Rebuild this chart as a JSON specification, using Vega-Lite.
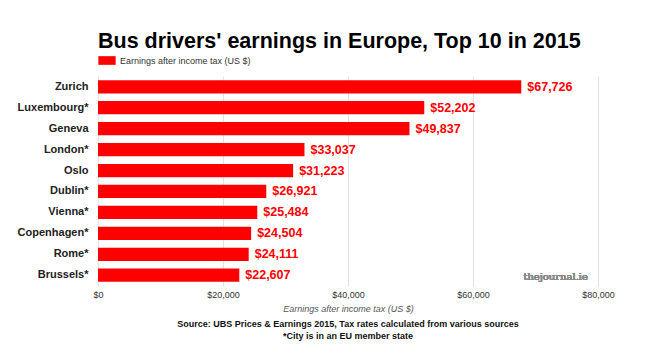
{
  "$schema": "https://vega.github.io/schema/vega-lite/v6.json",
  "width": 500,
  "height": 210,
  "autosize": {"type": "none"},
  "padding": {"left": 98, "top": 76, "right": 52, "bottom": 71},
  "background": "white",
  "config": {
    "font": "Liberation Sans",
    "view": {"stroke": null}
  },
  "title": {
    "text": ["Source: UBS Prices & Earnings 2015, Tax rates calculated from various sources", "*City is in an EU member state"],
    "orient": "bottom",
    "anchor": "middle",
    "fontSize": 9,
    "fontWeight": "bold",
    "color": "#111111",
    "lineHeight": 12,
    "offset": 7
  },
  "data": {
    "values": [
      {"city": "Zurich", "earnings": 67726, "series": "Earnings after income tax (US $)"},
      {"city": "Luxembourg*", "earnings": 52202, "series": "Earnings after income tax (US $)"},
      {"city": "Geneva", "earnings": 49837, "series": "Earnings after income tax (US $)"},
      {"city": "London*", "earnings": 33037, "series": "Earnings after income tax (US $)"},
      {"city": "Oslo", "earnings": 31223, "series": "Earnings after income tax (US $)"},
      {"city": "Dublin*", "earnings": 26921, "series": "Earnings after income tax (US $)"},
      {"city": "Vienna*", "earnings": 25484, "series": "Earnings after income tax (US $)"},
      {"city": "Copenhagen*", "earnings": 24504, "series": "Earnings after income tax (US $)"},
      {"city": "Rome*", "earnings": 24111, "series": "Earnings after income tax (US $)"},
      {"city": "Brussels*", "earnings": 22607, "series": "Earnings after income tax (US $)"}
    ]
  },
  "encoding": {
    "y": {
      "field": "city",
      "type": "nominal",
      "sort": null,
      "scale": {"paddingInner": 0.37, "paddingOuter": 0.2},
      "axis": {
        "title": null,
        "domain": false,
        "ticks": false,
        "labelFontSize": 11,
        "labelFontWeight": "bold",
        "labelColor": "#222222",
        "labelPadding": 10
      }
    }
  },
  "layer": [
    {
      "mark": {"type": "bar", "color": "#ff0000"},
      "encoding": {
        "x": {
          "field": "earnings",
          "type": "quantitative",
          "scale": {"domain": [0, 80000]},
          "axis": {
            "orient": "bottom",
            "values": [0, 20000, 40000, 60000, 80000],
            "format": "$,.0f",
            "domain": false,
            "ticks": false,
            "labelFlush": false,
            "labelFontSize": 9,
            "labelColor": "#333333",
            "labelPadding": 4,
            "gridColor": "#e2e2e2",
            "title": "Earnings after income tax (US $)",
            "titleFontSize": 9,
            "titleFontStyle": "italic",
            "titleFontWeight": "normal",
            "titleColor": "#555555",
            "titlePadding": 5
          }
        },
        "color": {
          "field": "series",
          "type": "nominal",
          "scale": {"range": ["#ff0000"]},
          "legend": {
            "orient": "top",
            "title": "Bus drivers' earnings in Europe, Top 10 in 2015",
            "titleFontSize": 21.5,
            "titleFontWeight": "bold",
            "titleColor": "#000000",
            "titleLimit": 620,
            "titlePadding": -1,
            "symbolType": "M-1,-0.5H1V0.5H-1Z",
            "symbolSize": 300,
            "symbolStrokeWidth": 0,
            "symbolOpacity": 1,
            "labelFontSize": 9,
            "labelColor": "#333333",
            "offset": 10,
            "padding": 0
          }
        }
      }
    },
    {
      "mark": {"type": "text", "align": "left", "dx": 6, "fontSize": 12.5, "fontWeight": "bold", "color": "#ff0000"},
      "encoding": {
        "x": {"field": "earnings", "type": "quantitative"},
        "text": {"field": "earnings", "type": "quantitative", "format": "$,.0f"}
      }
    },
    {
      "mark": {"type": "text", "align": "right", "fontSize": 10, "font": "DejaVu Serif", "color": "#888888", "dy": 2},
      "encoding": {
        "x": {"datum": 78400, "type": "quantitative"},
        "y": {"datum": "Brussels*"},
        "text": {"value": "thejournal.ie"}
      }
    }
  ]
}
